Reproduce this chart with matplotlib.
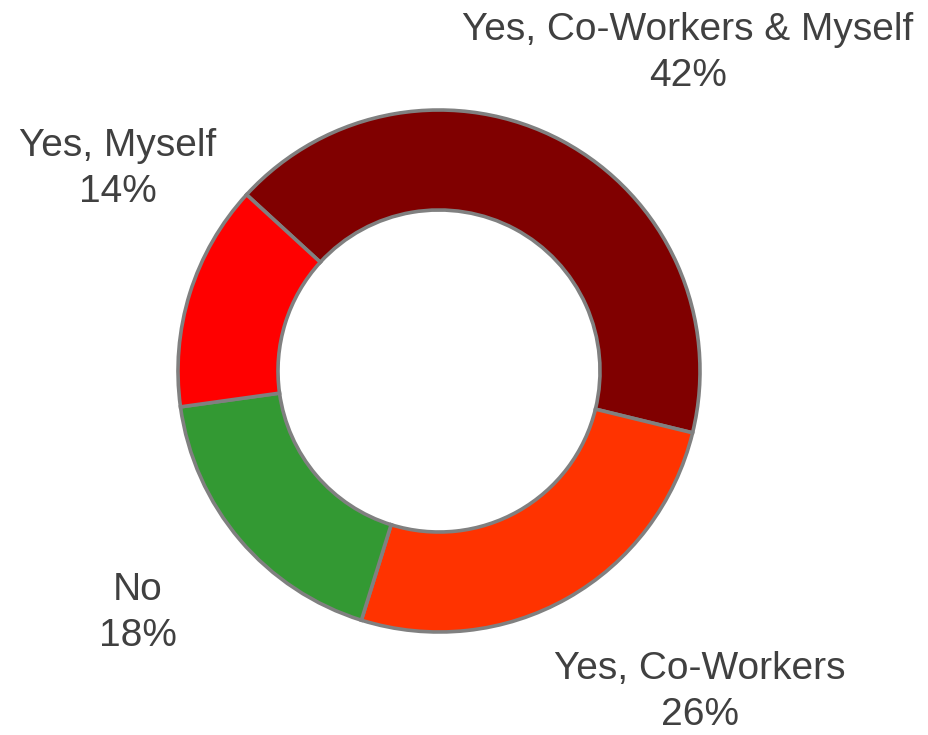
import matplotlib
matplotlib.use("Agg")
import matplotlib.pyplot as plt

# survey answers, clockwise from the upper-left
labels = ["Yes, Co-Workers & Myself", "Yes, Co-Workers", "No", "Yes, Myself"]
shares = [42, 26, 18, 14]
colors = ["#800000", "#FF3300", "#339933", "#FF0000"]

TEXT = "#404040"
EDGE = "#808080"

fig = plt.figure(figsize=(9.29, 7.35), dpi=100)
ax = fig.add_axes([0, 0, 1, 1])

ax.pie(
    shares,
    colors=colors,
    startangle=137.5,
    counterclock=False,
    center=(439, 364),
    radius=261,
    wedgeprops=dict(width=100, edgecolor=EDGE, linewidth=2.6),
    frame=True,
)
ax.set_xlim(0, 929)
ax.set_ylim(0, 735)
ax.set_aspect("equal")
ax.axis("off")

# label spots (pixel coords, y measured from the bottom)
label_xy = [(688, 682), (700, 43), (138, 122), (118, 566)]
for name, pct, (x, y) in zip(labels, shares, label_xy):
    ax.text(x, y, f"{name}\n{pct}%", ha="center", va="center",
            fontsize=28, color=TEXT, family="Liberation Sans",
            linespacing=1.33)

fig.savefig("out.png", dpi=100)
